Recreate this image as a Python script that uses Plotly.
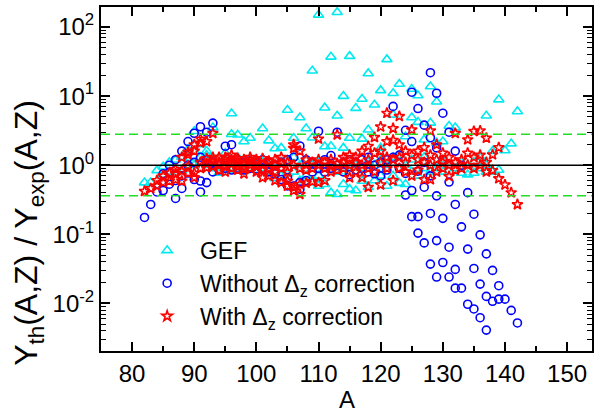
import plotly.graph_objects as go

# Mass numbers A = 82 ... 142; for each A the ratios Y_th/Y_exp of the measured isotopes
mass_numbers = list(range(82, 143))

gef_ratios = [
    [0.56], [0.56], [0.84], [0.72, 0.95], [1.1, 0.8], [1.2, 0.9], [1.3, 0.85],
    [1.27, 1.0, 1.7], [3.1, 1.6, 1.0], [2.0, 1.1, 1.3], [1.4, 1.0, 1.6],
    [3.5, 1.2, 0.9], [0.77, 1.1, 1.3], [0.9, 1.2, 1.5], [5.6, 2.8, 0.84, 1.1],
    [2.76, 0.9, 1.3], [2.2, 0.82, 1.1], [2.47, 0.9, 1.2], [1.0, 0.85, 1.15],
    [3.4, 0.9, 1.1], [2.27, 0.8, 1.0], [1.74, 0.64, 1.0], [1.78, 0.7, 1.1],
    [6.3, 0.75, 1.2], [2.47, 0.8, 1.3], [4.9, 0.6, 1.0], [3.4, 0.7, 1.2],
    [23.3, 2.5, 0.56, 1.0], [150, 0.5, 0.7, 1.1], [6.8, 1.86, 0.53, 0.9],
    [37, 1.88, 0.4, 1.0], [164, 5.2, 0.38, 0.8], [10, 1.78, 0.53, 0.9],
    [37.9, 2.47, 0.45, 0.8], [6.7, 0.43, 1.0], [9.1, 2.4, 0.59, 0.9],
    [21.3, 3.26, 0.48, 1.1], [7.5, 0.6, 1.0], [12.1, 1.78, 0.7, 1.2],
    [34, 0.5, 1.0], [11, 5.35, 0.7, 1.3], [15, 0.55, 1.4], [2.6, 0.53, 1.0],
    [12.7, 4.9, 0.8, 1.2], [10.2, 4.2, 0.7], [2.34, 0.9, 1.3], [13.8, 4.1, 0.8],
    [8.3, 2.1, 0.9], [2.2, 1.2, 0.8], [3.7, 1.0], [3.5, 0.9], [0.77, 1.1],
    [0.73, 1.0], [0.77, 1.1], [0.9, 1.3], [5.2, 0.8, 1.0], [1.6, 0.8],
    [8.9, 0.85], [1.63], [2.05], [6.0],
]

without_dz_ratios = [
    [0.175], [0.27], [0.41], [0.43, 0.75], [0.53, 0.79, 1.0], [0.33, 1.2, 0.6],
    [0.46, 1.6, 0.7], [2.2, 0.77, 1.0], [2.9, 0.62, 1.1], [3.6, 0.41, 0.59, 1.3],
    [3.0, 0.56, 1.2], [4.06, 0.8, 1.1], [1.05, 0.85], [1.88, 1.0, 0.9],
    [1.98, 1.1, 0.85], [1.2, 0.9], [1.1, 0.85], [1.15, 0.9], [1.05, 0.88],
    [1.2, 0.9], [1.1, 0.8], [1.0, 0.75], [0.62, 1.1], [0.66, 1.2, 0.5],
    [0.5, 1.3], [0.56, 1.9, 0.45], [0.6, 1.2], [0.8, 1.1], [3.1, 0.9],
    [1.2, 0.8], [1.38, 0.9], [3.0, 1.0], [1.1, 0.8], [0.73, 1.2], [0.85, 1.1],
    [1.2, 0.9], [1.3, 0.8], [1.0, 0.75], [1.1, 0.7], [1.2, 0.85], [7.1, 1.3],
    [0.9, 1.4], [3.2, 0.76, 0.37], [11.4, 2.2, 0.43, 0.18],
    [6.6, 0.82, 0.18, 0.104], [3.8, 0.48, 0.075, 1.1],
    [21.8, 2.5, 0.7, 0.2, 0.037], [11, 1.78, 0.36, 0.081, 0.024],
    [5.66, 0.17, 0.039, 1.2], [3.0, 0.57, 0.065, 0.024],
    [1.6, 0.27, 0.031, 0.0166], [0.128, 0.0166, 1.0], [0.4, 0.061, 0.0097],
    [0.195, 0.032, 0.0083], [0.098, 0.019, 0.0062], [0.052, 0.0126, 0.0041],
    [0.030, 0.0107], [0.018, 0.0115], [0.0115], [0.0079], [0.0052],
]

with_dz_ratios = [
    [0.42], [0.46], [0.5, 0.6], [0.56, 0.7], [0.77, 0.59], [0.62, 0.87, 0.75],
    [0.59, 0.82, 1.3], [0.97, 1.42, 0.77, 1.55], [1.6, 0.77, 1.98, 0.66],
    [2.1, 0.9, 2.4, 1.1], [2.2, 0.92, 1.05, 1.25], [2.9, 1.14, 0.95, 1.3],
    [1.1, 0.85, 1.3, 1.0], [1.3, 0.95, 1.15, 0.8], [1.2, 0.9, 1.4, 1.05],
    [1.1, 0.85, 1.25, 0.95], [1.05, 0.88, 1.2, 0.75], [1.15, 0.9, 1.3, 1.0],
    [1.1, 0.8, 1.2, 0.95], [1.0, 0.85, 1.25, 0.66], [1.15, 0.9, 1.05, 0.7],
    [1.2, 0.8, 1.0, 0.6], [1.3, 0.56, 0.9, 1.05], [1.1, 0.5, 0.59, 0.8],
    [1.98, 1.75, 0.43, 0.48, 1.0], [1.6, 0.38, 0.53, 0.9], [1.2, 0.55, 0.85],
    [1.1, 0.58, 0.9], [2.4, 1.0, 0.56, 1.2], [1.1, 0.6, 0.9], [1.2, 0.8, 1.0],
    [2.76, 1.05, 0.85], [1.3, 0.9, 1.1], [1.4, 0.66, 1.0], [1.3, 0.8, 1.1],
    [1.6, 0.66, 1.0], [1.88, 0.48, 1.2, 0.9], [2.53, 1.5, 0.8],
    [3.6, 1.6, 0.52, 1.1], [5.66, 2.2, 1.3, 0.9], [3.4, 2.3, 0.6, 1.2],
    [5.1, 1.98, 0.9, 1.3], [1.6, 0.8, 1.1], [3.26, 1.4, 0.7], [1.2, 0.85, 1.6],
    [0.62, 1.1, 1.8], [3.15, 0.62, 1.0, 1.4], [1.98, 1.2, 0.8], [1.5, 0.9, 1.1],
    [0.69, 1.3, 1.0], [2.9, 1.1, 0.85], [1.2, 0.9], [2.34, 1.5, 1.0],
    [3.1, 1.3, 0.9], [3.15, 1.4, 1.0], [2.47, 1.1, 0.8], [1.42, 0.84],
    [1.8, 0.64], [0.52], [0.4], [0.27],
]

# Reference levels: perfect agreement and the factor-of-2.8 band
unity_level = 1.0
band_upper = 2.8
band_lower = 0.36

y_decades = [0.01, 0.1, 1, 10, 100]
y_decade_labels = ["10<sup>-2</sup>", "10<sup>-1</sup>", "10<sup>0</sup>",
                   "10<sup>1</sup>", "10<sup>2</sup>"]
x_ticks = [80, 90, 100, 110, 120, 130, 140, 150]


def flatten(groups):
    xs, ys = [], []
    for a, vals in zip(mass_numbers, groups):
        for v in vals:
            xs.append(a)
            ys.append(v)
    return xs, ys


FONT = "Liberation Sans, Arial, sans-serif"
GAP = "\u00a0\u00a0"

fig = go.Figure()
series = [
    (GAP + "GEF", gef_ratios, "triangle-up-open", "#00eaf0", 9),
    (GAP + "Without \u0394<sub>z</sub> correction", without_dz_ratios, "circle-open", "#0000ff", 8),
    (GAP + "With \u0394<sub>z</sub> correction", with_dz_ratios, "star-open", "#ff0000", 8),
]
for name, groups, symbol, color, size in series:
    xs, ys = flatten(groups)
    fig.add_trace(go.Scatter(
        x=xs, y=ys, mode="markers", name=name,
        marker=dict(symbol=symbol, size=size, color=color,
                    line=dict(color=color, width=1.6)),
    ))

fig.add_hline(y=unity_level, line=dict(color="black", width=1.5))
for lvl in (band_upper, band_lower):
    fig.add_hline(y=lvl, line=dict(color="#22dd22", width=1.5, dash="9px,5px"))

minor_y = [m * d for d in [0.001] + y_decades for m in range(2, 10)]

fig.update_xaxes(
    range=[75, 154], tickvals=x_ticks, ticks="inside", ticklen=9, tickwidth=1.5,
    tickcolor="black", showline=True, linewidth=2, linecolor="black",
    mirror="allticks", showgrid=False, zeroline=False,
    tickfont=dict(family=FONT, size=24, color="black"),
    minor=dict(dtick=5, tick0=75, ticks="inside", ticklen=5, tickwidth=1.5,
               tickcolor="black", showgrid=False),
)
fig.update_yaxes(
    type="log", range=[-2.69, 2.29], tickvals=y_decades, ticktext=y_decade_labels,
    ticks="inside", ticklen=9, tickwidth=1.5, tickcolor="black",
    showline=True, linewidth=2, linecolor="black", mirror="allticks",
    showgrid=False, zeroline=False,
    tickfont=dict(family=FONT, size=24, color="black"),
    minor=dict(tickvals=minor_y, ticks="inside", ticklen=5, tickwidth=1.2,
               tickcolor="black", showgrid=False),
)

fig.add_annotation(
    text="Y<sub>th</sub>(A,Z) / Y<sub>exp</sub>(A,Z)", textangle=-90,
    xref="paper", yref="paper", x=-0.149, y=0.343, xanchor="center", yanchor="middle",
    showarrow=False, font=dict(family=FONT, size=32, color="black"),
)
fig.add_annotation(
    text="A", xref="paper", yref="paper", x=0.5, y=-0.14,
    xanchor="center", yanchor="middle", showarrow=False,
    font=dict(family=FONT, size=24, color="black"),
)

fig.update_layout(
    width=607, height=412,
    margin=dict(l=101, r=15, t=5, b=61),
    paper_bgcolor="white", plot_bgcolor="white",
    showlegend=True,
    legend=dict(x=0.094, y=0.355, xanchor="left", yanchor="top",
                bgcolor="rgba(0,0,0,0)", borderwidth=0,
                font=dict(family=FONT, size=23, color="black")),
)

fig.write_html("out.html")
